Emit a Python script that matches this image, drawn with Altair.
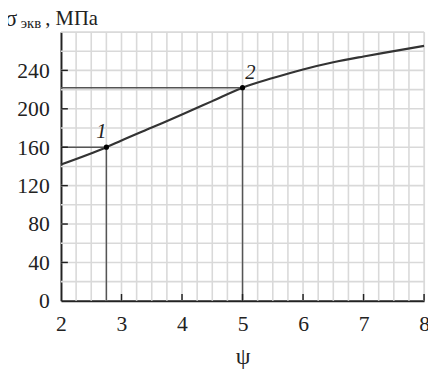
import altair as alt
import pandas as pd

# curve
psi = [2.0, 2.75, 3.0, 3.5, 4.0, 4.5, 5.0, 5.5, 6.0, 6.5, 7.0, 7.5, 8.0]
sigma = [142, 160, 167, 180.5, 194, 208, 222, 232, 241, 248.5, 254.5, 260, 265.5]

# marked points
pt_psi = [2.75, 5.0]
pt_sigma = [160, 222]
pt_label = ["1", "2"]

# grid and ticks
x_grid = [2.25, 2.5, 2.75, 3, 3.25, 3.5, 3.75, 4, 4.25, 4.5, 4.75, 5, 5.25,
          5.5, 5.75, 6, 6.25, 6.5, 6.75, 7, 7.25, 7.5, 7.75, 8]
y_grid = [20, 40, 60, 80, 100, 120, 140, 160, 180, 200, 220, 240, 260, 280]
x_labels = [2, 3, 4, 5, 6, 7, 8]
y_labels = [0, 40, 80, 120, 160, 200, 240]
x_ticks = [3, 4, 5, 6, 7, 8]
y_ticks = [40, 80, 120, 160, 200, 240]

FONT = "Liberation Serif"
GRID = "#d9d9d9"

curve = pd.DataFrame({"psi": psi, "sigma": sigma})
pts = pd.DataFrame({"psi": pt_psi, "sigma": pt_sigma, "label": pt_label,
                    "x0": [2, 2], "y0": [0, 0]})

xs = alt.Scale(domain=[2, 8], nice=False, zero=False)
ys = alt.Scale(domain=[0, 280], nice=False)

xaxis = alt.Axis(values=x_labels, grid=False, ticks=False,
                 domainColor="#222222", domainWidth=2, format="d",
                 labelOverlap=False, labelFont=FONT, labelFontSize=22, labelColor="#222222",
                 labelPadding=13, labelFlush=False,
                 title="ψ", titleFont=FONT, titleFontSize=24, titleFontWeight="normal",
                 titleColor="#222222", titlePadding=11)
yaxis = alt.Axis(values=y_labels, grid=False, ticks=False,
                 domainColor="#222222", domainWidth=2, format="d",
                 labelOverlap=False, labelFont=FONT, labelFontSize=22, labelColor="#222222",
                 labelPadding=12, labelFlush=False, title=None)

vgrid = alt.Chart(pd.DataFrame({"v": x_grid})).mark_rule(color=GRID, strokeWidth=1.6).encode(
    x=alt.X("v:Q", scale=xs, axis=xaxis), y=alt.value(0), y2=alt.value(274))
hgrid = alt.Chart(pd.DataFrame({"v": y_grid})).mark_rule(color=GRID, strokeWidth=1.6).encode(
    y=alt.Y("v:Q", scale=ys, axis=yaxis), x=alt.value(0), x2=alt.value(370))

line = alt.Chart(curve).mark_line(color="#333333", strokeWidth=2.2, interpolate="monotone").encode(
    x=alt.X("psi:Q", scale=xs), y=alt.Y("sigma:Q", scale=ys))

hrule = alt.Chart(pts).mark_rule(color="#555555", strokeWidth=1.5).encode(
    x="x0:Q", x2="psi:Q", y="sigma:Q")
vrule = alt.Chart(pts).mark_rule(color="#555555", strokeWidth=1.5).encode(
    x="psi:Q", y="y0:Q", y2="sigma:Q")

dots = alt.Chart(pts).mark_circle(color="#000000", size=28, opacity=1).encode(
    x="psi:Q", y="sigma:Q")

lab1 = alt.Chart(pts).transform_filter("datum.label == '1'").mark_text(
    font=FONT, fontSize=21, fontStyle="italic", color="#222222", dx=-5, dy=-15).encode(
    x="psi:Q", y="sigma:Q", text="label:N")
lab2 = alt.Chart(pts).transform_filter("datum.label == '2'").mark_text(
    font=FONT, fontSize=21, fontStyle="italic", color="#222222", dx=8, dy=-15).encode(
    x="psi:Q", y="sigma:Q", text="label:N")

ytk = alt.Chart(pd.DataFrame({"v": y_ticks})).mark_rule(color="#222222", strokeWidth=1.5).encode(
    y="v:Q", x=alt.value(0), x2=alt.value(7))
xtk = alt.Chart(pd.DataFrame({"v": x_ticks})).mark_rule(color="#222222", strokeWidth=1.5).encode(
    x="v:Q", y=alt.value(274), y2=alt.value(267))

t_sigma = alt.Chart(pd.DataFrame({"t": ["σ"]})).mark_text(
    font=FONT, fontSize=23, align="left", baseline="middle", color="#222222").encode(
    text="t:N", x=alt.value(-57), y=alt.value(-13))
t_sub = alt.Chart(pd.DataFrame({"t": ["экв"]})).mark_text(
    font=FONT, fontSize=15, align="left", baseline="alphabetic", color="#222222").encode(
    text="t:N", x=alt.value(-41), y=alt.value(-4))
t_unit = alt.Chart(pd.DataFrame({"t": [",  МПа"]})).mark_text(
    font=FONT, fontSize=21, align="left", baseline="alphabetic", color="#222222").encode(
    text="t:N", x=alt.value(-16), y=alt.value(-7))

chart = alt.layer(vgrid, hgrid, line, hrule, vrule, dots, lab1, lab2, ytk, xtk,
                  t_sigma, t_sub, t_unit).properties(
    width=370, height=274,
    autosize=alt.AutoSizeParams(type="none"),
    padding={"left": 54, "top": 21, "right": 4, "bottom": 66},
).configure_view(stroke=None).configure(background="white")

chart.save("out.html", embed_options={"renderer": "svg", "actions": False})
